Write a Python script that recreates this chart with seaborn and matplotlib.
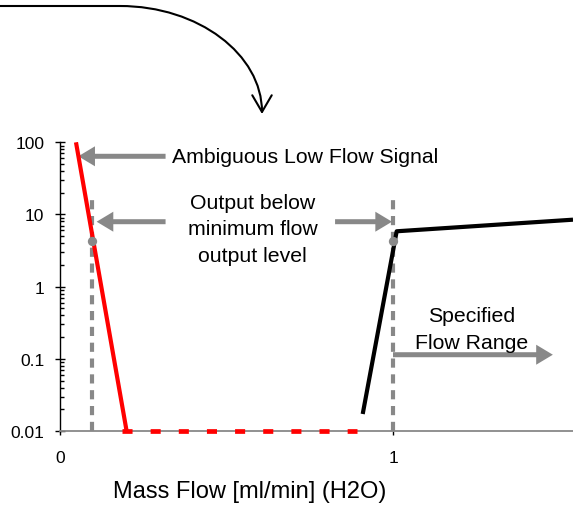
import matplotlib
matplotlib.use('Agg')
import matplotlib.pyplot as plt
import seaborn as sns
from matplotlib.patches import FancyArrowPatch
from matplotlib.path import Path

# values
red_x = [0.048, 0.2]
red_y = [100, 0.01]
floor_x = [0.1875, 0.892]
floor_y = [0.01, 0.01]
black_x = [0.909, 1.011, 1.5405]
black_y = [0.0172, 5.85, 8.47]
limit_x = [0.095, 1.0]
limit_top = [17.3, 17.3]
dot_y = [4.33, 4.33]

y_ticks = [0.01, 0.1, 1, 10, 100]
y_labels = ['0.01', '0.1', '1', '10', '100']
x_ticks = [0, 1]
x_labels = ['0', '1']

sns.set_style('white')
plt.rcParams['font.family'] = ['Liberation Sans', 'DejaVu Sans']
plt.rcParams['text.color'] = 'black'
plt.rcParams['axes.labelcolor'] = 'black'
plt.rcParams['xtick.color'] = 'black'
plt.rcParams['ytick.color'] = 'black'

W, H = 573, 506
gray = '#888888'
fig = plt.figure(figsize=(W / 100, H / 100), dpi=100)
ax = fig.add_axes([60 / W, 1 - 432 / H, 1 - 60 / W, (432 - 143.3) / H])

# signal lines
sns.lineplot(x=red_x, y=red_y, ax=ax, color='red', lw=3, sort=False,
             estimator=None, solid_capstyle='butt', zorder=4)
sns.lineplot(x=floor_x, y=floor_y, ax=ax, color='red', lw=3.4, sort=False,
             estimator=None, linestyle=(0, (2.13, 3.83)), clip_on=False, zorder=5)
sns.lineplot(x=black_x, y=black_y, ax=ax, color='black', lw=3, sort=False,
             estimator=None, solid_capstyle='butt', zorder=4)

# limits of the flow range
ax.vlines(limit_x, 0.01, limit_top, colors=gray, lw=3,
          linestyles=[(0, (2.2, 1.6))], zorder=3)
ax.scatter(limit_x, dot_y, s=45, color=gray, zorder=6, linewidths=0)

ax.set_yscale('log')
ax.set_xlim(0, 1.5405)
ax.set_ylim(0.01, 100)
ax.set_yticks(y_ticks)
ax.set_yticklabels(y_labels)
ax.set_xticks(x_ticks)
ax.set_xticklabels(x_labels)
ax.tick_params(axis='y', which='major', direction='inout', length=6.5,
               width=1, labelsize=12.5, pad=8, left=True)
ax.tick_params(axis='y', which='minor', direction='in', length=3,
               width=1, left=True)
ax.tick_params(axis='x', direction='out', length=3, width=1,
               labelsize=12.5, pad=10.5, bottom=True)
ax.set_xlabel('Mass Flow [ml/min] (H2O)', fontsize=17, va='top')
ax.xaxis.set_label_coords(0.3694, -0.1697)

for s in ['top', 'right']:
    ax.spines[s].set_visible(False)
ax.spines['left'].set_color('black')
ax.spines['left'].set_linewidth(1)
ax.spines['bottom'].set_color(gray)
ax.spines['bottom'].set_linewidth(1.3)

# annotation arrows
arrow = dict(arrowstyle='simple,head_length=1.2,head_width=1.44,tail_width=0.36',
             mutation_scale=10, color=gray, lw=0, shrinkA=0, shrinkB=0)
ax.annotate('', xy=(0.055, 64), xytext=(0.317, 64), arrowprops=arrow)
ax.annotate('', xy=(0.11, 7.94), xytext=(0.317, 7.94), arrowprops=arrow)
ax.annotate('', xy=(0.997, 7.94), xytext=(0.826, 7.94), arrowprops=arrow)
ax.annotate('', xy=(1.48, 0.114), xytext=(1.0, 0.114), arrowprops=arrow,
            annotation_clip=False)

ax.text(0.335, 64, 'Ambiguous Low Flow Signal', fontsize=15.3,
        ha='left', va='center')
ax.text(0.578, 6.3, 'Output below\nminimum flow\noutput level', fontsize=15.3,
        ha='center', va='center', linespacing=1.5)
ax.text(1.236, 0.259, 'Specified\nFlow Range', fontsize=15.3,
        ha='center', va='center', linespacing=1.5)

# curved arrow coming from above the chart (pixel positions, top-left origin)
def fpos(px, py):
    return (px / W, 1 - py / H)

k = 0.5523
verts = [fpos(0, 7), fpos(120, 7), fpos(120 + k * 142, 7),
         fpos(262, 115 - k * 108), fpos(262, 115)]
codes = [Path.MOVETO, Path.LINETO, Path.CURVE4, Path.CURVE4, Path.CURVE4]
curve = FancyArrowPatch(path=Path(verts, codes), transform=fig.transFigure,
                        arrowstyle='->,head_length=1.2,head_width=0.7',
                        mutation_scale=10, lw=1.5, color='black')
fig.add_artist(curve)

fig.savefig('out.png', dpi=100)
